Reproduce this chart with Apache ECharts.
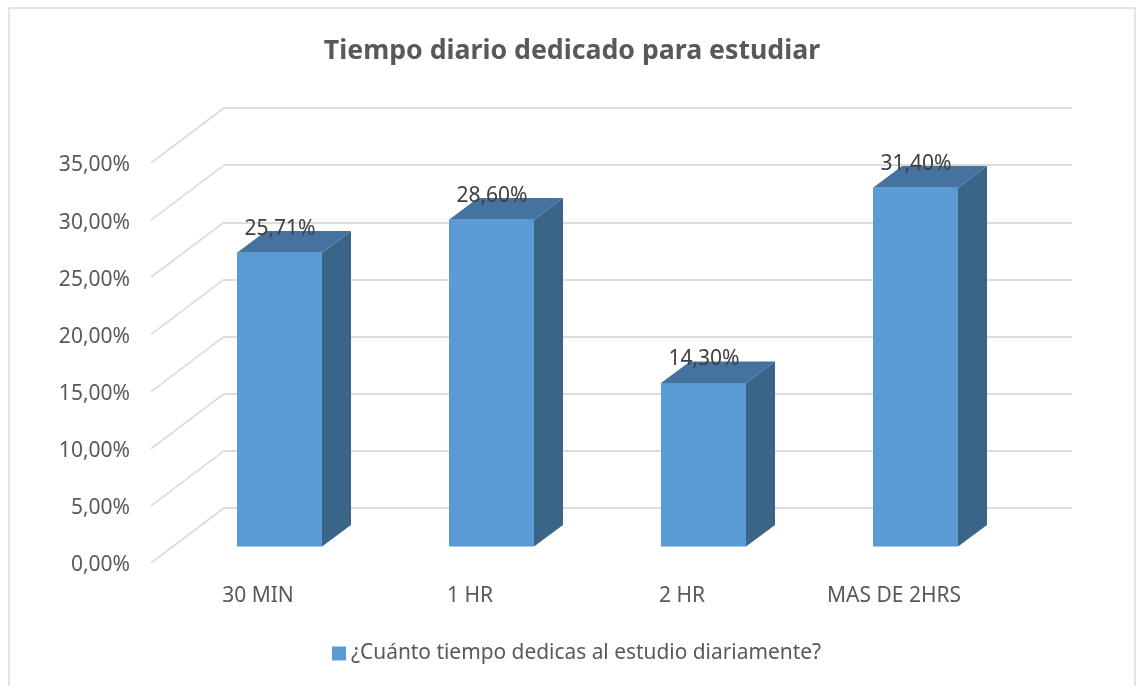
<!DOCTYPE html>
<html><head><meta charset="utf-8">
<style>html,body{margin:0;padding:0;background:#fff}#c{width:1136px;height:686px}</style>
<script src="https://cdn.jsdelivr.net/npm/echarts@6/dist/echarts.min.js"></script>
</head><body><div id="c"></div>
<script>
const categories = ['30 MIN', '1 HR', '2 HR', 'MAS DE 2HRS'];
const values = [25.71, 28.6, 14.3, 31.4];
const yTicks = [0, 5, 10, 15, 20, 25, 30, 35];
const seriesName = '¿Cuánto tiempo dedicas al estudio diariamente?';
const titleText = 'Tiempo diario dedicado para estudiar';
const FONT = '"Noto Sans", sans-serif';
const fmt = v => v.toFixed(2).replace('.', ',') + '%';

const chart = echarts.init(document.getElementById('c'), null, {renderer: 'canvas'});
chart.setOption({
  animation: false,
  backgroundColor: '#fff',
  title: {text: titleText, left: 567, textAlign: 'center', top: 33,
    textStyle: {fontFamily: FONT, fontSize: 26.7, fontWeight: 'bold', color: '#595959'}},
  legend: {data: [{name: seriesName, icon: 'rect'}], left: 327, top: 638, itemWidth: 14, itemHeight: 14, itemGap: 7,
    textStyle: {fontFamily: FONT, fontSize: 20.9, color: '#595959'}},
  graphic: [{type: 'rect', z: -10, silent: true, shape: {x: 9, y: 8, width: 1126, height: 720},
    style: {fill: 'none', stroke: '#DCDCDC', lineWidth: 1.5}}],
  grid: [
    {left: 152, top: 165.5, width: 848, height: 400},
    {left: 224, top: 108, width: 848, height: 400}
  ],
  xAxis: [
    {gridIndex: 0, type: 'category', data: categories, axisLine: {show: false}, axisTick: {show: false},
      axisLabel: {margin: 20, interval: 0, fontFamily: FONT, fontSize: 21, color: '#595959'}},
    {gridIndex: 1, type: 'category', data: categories, show: false}
  ],
  yAxis: [
    {gridIndex: 0, type: 'value', min: 0, max: 35, interval: 5, splitLine: {show: false},
      axisLine: {show: false}, axisTick: {show: false},
      axisLabel: {margin: 22, formatter: fmt, fontFamily: FONT, fontSize: 21, color: '#595959'}},
    {gridIndex: 1, type: 'value', min: 0, max: 35, interval: 5, axisLabel: {show: false},
      axisLine: {show: false}, axisTick: {show: false},
      splitLine: {show: true, lineStyle: {color: '#DCDCDC', width: 2}}}
  ],
  series: [
    {type: 'custom', name: 'walls', coordinateSystem: 'cartesian2d', xAxisIndex: 0, yAxisIndex: 0, z: 1,
      silent: true, data: yTicks.map(v => [0, v]),
      renderItem(params, api) {
        const p = api.coord([0, api.value(1)]);
        const x0 = 151, y0 = p[1] - 2.5;
        return {type: 'line', shape: {x1: x0, y1: y0, x2: x0 + 73, y2: y0 - 55},
          style: {stroke: '#DCDCDC', lineWidth: 1.7}};
      }},
    {type: 'custom', name: seriesName, coordinateSystem: 'cartesian2d', xAxisIndex: 0, yAxisIndex: 0, z: 3,
      silent: true, itemStyle: {color: '#5B9BD5'},
      data: values.map((v, i) => [i, v]),
      encode: {x: 0, y: 1},
      renderItem(params, api) {
        const v = api.value(1);
        const top = api.coord([api.value(0), v]);
        const base = api.coord([api.value(0), 0]);
        const w = 85, dx = 29, dy = 21.6;
        const xl = top[0] + 21.5 - w / 2, xr = xl + w;
        const yt = top[1] - 19, yb = base[1] - 19;
        return {type: 'group', children: [
          {type: 'polygon', shape: {points: [[xr, yt], [xr + dx, yt - dy], [xr + dx, yb - dy], [xr, yb]]},
            style: {fill: '#3A6488'}},
          {type: 'polygon', shape: {points: [[xl, yt], [xl + dx, yt - dy], [xr + dx, yt - dy], [xr, yt]]},
            style: {fill: '#44739F'}},
          {type: 'rect', shape: {x: xl, y: yt, width: w, height: yb - yt},
            style: {fill: '#5B9BD5'}},
          {type: 'text', x: xl + w / 2 + 0.5, y: yt - 24,
            style: {text: fmt(v), fill: '#404040', font: '21px ' + FONT, align: 'center', verticalAlign: 'middle'}}
        ]};
      }}
  ]
});
</script></body></html>
